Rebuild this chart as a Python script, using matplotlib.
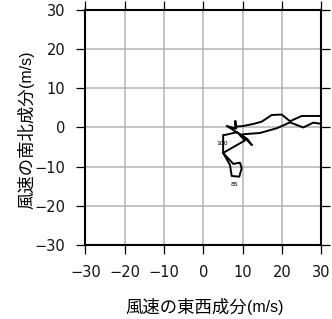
import numpy as np
import matplotlib
matplotlib.use('Agg')
import matplotlib.pyplot as plt

# wind vector components (m/s): east-west (u) and north-south (v)
u = [30.5, 24.97, 22.0, 19.9, 17.34, 14.8, 12.66, 10.12, 8.1, 8.1, 8.3, 5.9, 7.5,
     10.5, 12.3, 11.2, 8.5, 5.5, 5.0, 5.0, 6.74, 7.17, 9.1, 9.71, 9.28, 7.6, 5.0,
     10.55, 9.3, 10.12, 14.37, 18.61, 22.0, 25.38, 27.92, 30.5]
v = [2.94, 2.94, 1.6, 3.3, 3.19, 1.48, 0.9, 0.39, 0.2, 1.7, -0.3, 0.4, -0.6,
     -2.6, -4.5, -3.0, -1.2, -1.9, -1.9, -6.5, -9.57, -12.38, -12.56, -10.41, -8.98, -9.3, -6.5,
     -3.3, -2.0, -1.73, -1.4, -0.2, 1.3, 0.0, 1.23, 0.85]

# labelled points
mark_text = ['100', '85']
mark_u = [4.63, 7.76]
mark_v = [-4.03, -14.68]

ticks = [-30, -20, -10, 0, 10, 20, 30]

plt.rcParams['font.family'] = ['DejaVu Sans']

fig = plt.figure(figsize=(3.32, 3.19), dpi=100)
ax = fig.add_axes([0.2575, 0.232, 0.7108, 0.7367])

ax.plot(u, v, color='black', linewidth=1.4, solid_joinstyle='round', clip_on=True)
for t, x, y in zip(mark_text, mark_u, mark_v):
    ax.text(x, y, t, fontsize=4.5, ha='center', va='center', color='black')

ax.set_xlim(-30, 30)
ax.set_ylim(-30, 30)
ax.set_xticks(ticks)
ax.set_yticks(ticks)
ax.grid(True, color='#b4b4b4', linewidth=1.1)
ax.set_axisbelow(True)

for s in ax.spines.values():
    s.set_linewidth(1.5)
    s.set_color('black')

ax.tick_params(direction='out', length=6.5, width=0.9, labelsize=10.5, pad=8,
               top=True, right=True, labeltop=False, labelright=False)
for lab in ax.get_xticklabels() + ax.get_yticklabels():
    lab.set_color('#111111')

# axis titles: Japanese part plus smaller unit part
jp = ['Noto Sans CJK JP', 'DejaVu Sans']
fig.text(0.744, 0.0345, '風速の東西成分', family=jp, fontsize=12.5, ha='right', va='center')
fig.text(0.744, 0.0345, '(m/s)', family=['Liberation Sans'], fontsize=11.5, ha='left', va='center')
fig.text(0.081, 0.727, '風速の南北成分', family=jp, fontsize=12.5, ha='center', va='top', rotation=90)
fig.text(0.081, 0.727, '(m/s)', family=['Liberation Sans'], fontsize=11.5, ha='center', va='bottom', rotation=90)

fig.savefig('out.png', dpi=100)
